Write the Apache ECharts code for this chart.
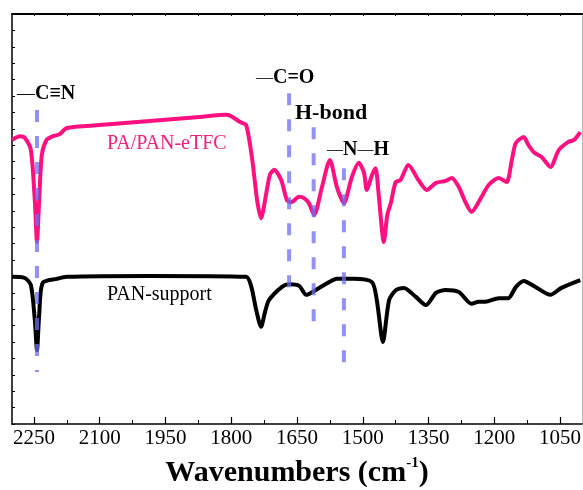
<!DOCTYPE html>
<html>
<head>
<meta charset="utf-8">
<script src="https://cdn.jsdelivr.net/npm/echarts@6/dist/echarts.min.js"></script>
<style>html,body{margin:0;padding:0;background:#fff}#c{width:583px;height:490px}</style>
</head>
<body>
<div id="c"></div>
<script>
// ---- data (wavenumber in cm-1, transmittance in a.u.) ----
const pinkWn = [2300,2282,2271,2257,2248,2243,2238,2232,2221,2207,2191,2175,2100,1986,1872,1811,1797,1781,1766,1752,1741,1732,1720,1712,1702,1686,1673,1663,1645,1634,1623,1611,1593,1575,1559,1543,1525,1509,1497,1491,1479,1471,1464,1452,1444,1436,1425,1414,1396,1373,1354,1333,1311,1297,1281,1268,1252,1229,1213,1190,1172,1160,1151,1133,1122,1110,1092,1072,1053,1031,1018,1004];
const pinkT  = [69.3,70.2,69.8,66.8,54.6,44.4,54.6,65.6,69.3,70.2,70.7,72.2,72.9,73.9,74.9,75.4,74.9,73.7,72.9,64.4,54.6,50.2,56.3,60.7,62.0,59.5,54.6,54.1,55.4,55.1,53.9,51.0,57.8,64.4,57.8,53.9,60.2,63.7,61.2,57.1,60.7,62.4,56.3,44.4,51.0,53.9,59.0,59.5,63.2,59.5,57.1,58.8,59.3,60.0,57.8,54.6,51.7,55.4,58.3,60.0,59.0,64.4,68.5,70.0,68.0,66.3,65.1,62.7,66.8,68.8,69.3,71.2];
const blackWn = [2300,2271,2257,2248,2243,2238,2230,2198,2175,1986,1766,1754,1743,1732,1723,1714,1685,1668,1645,1629,1607,1577,1559,1521,1479,1468,1454,1440,1424,1406,1379,1356,1333,1311,1281,1252,1236,1220,1190,1168,1151,1133,1106,1072,1047,1004];
const blackT  = [35.9,35.6,33.9,25.4,18.0,26.6,34.4,35.4,35.9,36.1,35.9,33.4,27.8,23.7,27.3,30.2,33.4,34.1,33.7,31.5,32.7,34.6,35.4,35.4,34.6,30.2,20.0,30.2,32.7,33.2,31.0,29.0,32.0,32.7,32.2,29.3,29.8,29.8,30.7,30.7,33.4,34.9,33.4,31.5,33.2,35.1];
// marker (dashed) lines
const bandWn     = [2243,1668,1612,1543];
const bandTop    = [76.6,80.7,72.4,62.4];
const bandBottom = [12.7,30.2,24.6,14.9];
// axis ticks
const tickLabels = [2250,2100,1950,1800,1650,1500,1350,1200,1050];
const minorTicks = [2175,2025,1875,1725,1575,1425,1275,1125];
const allTicks = [2250,2175,2100,2025,1950,1875,1800,1725,1650,1575,1500,1425,1350,1275,1200,1125,1050];

const SERIF = '"Times New Roman","Liberation Serif",serif';
const zip = (a,b)=>a.map((v,i)=>[v,b[i]]);

const bandSeries = bandWn.map((w,i)=>({
  type:'line', xAxisIndex:0, yAxisIndex:0, symbol:'none', silent:true, z:5,
  data:[[w,bandTop[i]],[w,bandBottom[i]]],
  lineStyle:{color:'rgba(110,110,240,0.75)', width:4, type:[12,14]}
}));

const chart = echarts.init(document.getElementById('c'), null, {renderer:'canvas'});
chart.setOption({
  animation:false,
  backgroundColor:'#fff',
  grid:{left:12, right:1, top:14, bottom:66, containLabel:false, outerBoundsMode:'none'},
  xAxis:[
    {type:'value', min:1000, max:2300, inverse:true, position:'bottom',
     axisLine:{lineStyle:{color:'#000', width:1.5}},
     axisTick:{inside:true, length:7, customValues:tickLabels, lineStyle:{color:'#000', width:1.2}},
     axisLabel:{customValues:tickLabels, formatter:(v)=>String(v), fontFamily:SERIF, fontSize:21, color:'#000', margin:4, hideOverlap:false},
     splitLine:{show:false},
     name:'{t|Wavenumbers (cm}{s|-1}{t|)}', nameLocation:'middle', nameGap:32,
     nameTextStyle:{rich:{
       t:{fontFamily:SERIF, fontSize:30, fontWeight:'bold', color:'#000', lineHeight:32, verticalAlign:'bottom'},
       s:{fontFamily:SERIF, fontSize:15, fontWeight:'bold', color:'#000', lineHeight:32, verticalAlign:'top', padding:[0,0,14,0]}
     }}},
    {type:'value', min:1000, max:2300, inverse:true, position:'bottom',
     axisLine:{show:false},
     axisTick:{inside:true, length:4, customValues:minorTicks, lineStyle:{color:'#000', width:1}},
     axisLabel:{show:false}, splitLine:{show:false}},
    {type:'value', min:1000, max:2300, inverse:true, position:'top',
     axisLine:{lineStyle:{color:'#000', width:2}},
     axisTick:{inside:true, length:2, customValues:allTicks, lineStyle:{color:'#000', width:1}},
     axisLabel:{show:false}, splitLine:{show:false}}
  ],
  yAxis:[
    {type:'value', min:0, max:100, interval:4, position:'left',
     axisLine:{show:true, lineStyle:{color:'#000', width:1.5}},
     axisTick:{show:true, inside:true, length:3, lineStyle:{color:'#000', width:1}},
     axisLabel:{show:false}, splitLine:{show:false}},
    {type:'value', min:0, max:100, interval:4, position:'right',
     axisLine:{show:true, lineStyle:{color:'#b8b8b8', width:1}},
     axisTick:{show:false}, axisLabel:{show:false}, splitLine:{show:false}}
  ],
  series:[
    {type:'line', name:'PA/PAN-eTFC', xAxisIndex:0, yAxisIndex:0, symbol:'none', smooth:0.25, z:3,
     data:zip(pinkWn,pinkT), lineStyle:{color:'#ff1080', width:4}},
    {type:'line', name:'PAN-support', xAxisIndex:0, yAxisIndex:0, symbol:'none', smooth:0.25, z:3,
     data:zip(blackWn,blackT), lineStyle:{color:'#000', width:4}}
  ].concat(bandSeries),
  graphic:[
    {type:'text', x:17, y:94, z:10, style:{text:'{d|—}{b|C≡N}', verticalAlign:'middle',
      rich:{d:{fontFamily:SERIF,fontSize:18,fill:'#000'}, b:{fontFamily:SERIF,fontSize:20,fontWeight:'bold',fill:'#000'}}}},
    {type:'text', x:256, y:78, z:10, style:{text:'{d|—}{b|C=O}', verticalAlign:'middle',
      rich:{d:{fontFamily:SERIF,fontSize:17,fill:'#000'}, b:{fontFamily:SERIF,fontSize:20,fontWeight:'bold',fill:'#000'}}}},
    {type:'text', x:295, y:113, z:10, style:{text:'H-bond', verticalAlign:'middle',
      font:'bold 22px '+SERIF, fill:'#000'}},
    {type:'text', x:327, y:150, z:10, style:{text:'{d|—}{b|N}{d|—}{b|H}', verticalAlign:'middle',
      rich:{d:{fontFamily:SERIF,fontSize:16,fill:'#000'}, b:{fontFamily:SERIF,fontSize:20,fontWeight:'bold',fill:'#000'}}}},
    {type:'text', x:107, y:144, z:10, style:{text:'PA/PAN-eTFC', verticalAlign:'middle',
      font:'20px '+SERIF, fill:'#f0207f'}},
    {type:'text', x:107, y:295, z:10, style:{text:'PAN-support', verticalAlign:'middle',
      font:'20px '+SERIF, fill:'#000'}}
  ]
});
</script>
</body>
</html>
